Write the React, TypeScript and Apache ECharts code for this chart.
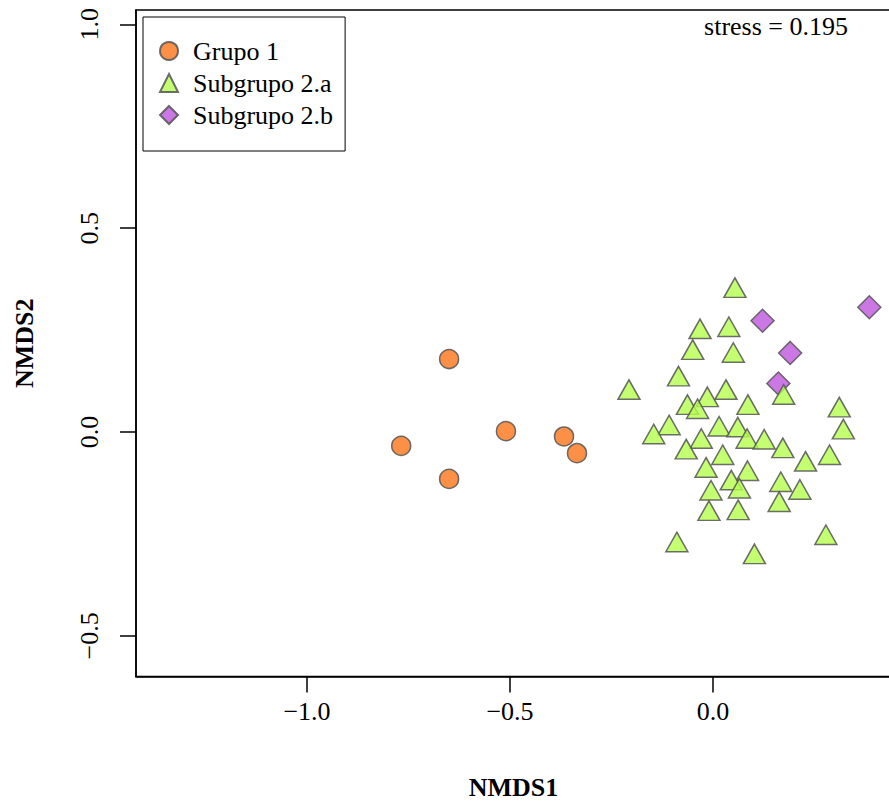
import React, { useEffect, useRef } from "react";
import * as echarts from "echarts";

// NMDS ordination scores (NMDS1, NMDS2) per group
const grupo1: [number, number][] = [
  [-0.65, 0.179],
  [-0.768, -0.034],
  [-0.65, -0.115],
  [-0.51, 0.002],
  [-0.367, -0.011],
  [-0.335, -0.052],
];

const subgrupo2a: [number, number][] = [
  [0.054, 0.346],
  [-0.032, 0.245],
  [0.039, 0.25],
  [-0.05, 0.194],
  [0.05, 0.187],
  [-0.085, 0.129],
  [-0.207, 0.096],
  [0.032, 0.096],
  [-0.014, 0.078],
  [-0.063, 0.059],
  [-0.038, 0.049],
  [0.086, 0.059],
  [0.174, 0.084],
  [0.311, 0.053],
  [0.321, -0.001],
  [-0.108, 0.009],
  [-0.146, -0.013],
  [0.015, 0.006],
  [0.061, 0.004],
  [0.084, -0.024],
  [-0.029, -0.024],
  [0.126, -0.026],
  [-0.066, -0.05],
  [0.172, -0.047],
  [0.024, -0.064],
  [0.228, -0.08],
  [0.287, -0.064],
  [-0.017, -0.095],
  [0.085, -0.103],
  [0.045, -0.126],
  [0.065, -0.146],
  [0.167, -0.13],
  [0.214, -0.149],
  [-0.005, -0.151],
  [0.163, -0.179],
  [-0.01, -0.201],
  [0.062, -0.199],
  [-0.089, -0.278],
  [0.102, -0.307],
  [0.278, -0.26],
];

const subgrupo2b: [number, number][] = [
  [0.122, 0.273],
  [0.19, 0.194],
  [0.161, 0.119],
  [0.385, 0.306],
];

const groupNames = ["Grupo 1", "Subgrupo 2.a", "Subgrupo 2.b"];
const xTickValues = [-1, -0.5, 0];
const yTickValues = [-0.5, 0, 0.5, 1];
const stressLabel = "stress = 0.195";

const FONT = "Liberation Serif";

const fmtTick = (v: number) =>
  (v < 0 ? "\u2212" : "") + Math.abs(v).toFixed(1);

export default function App() {
  const ref = useRef<HTMLDivElement>(null);

  useEffect(() => {
    if (!ref.current) return;
    const chart = echarts.init(ref.current, undefined, { renderer: "svg" });

    const stroke = {
      borderColor: "rgba(85,85,85,0.85)",
      borderWidth: 1.5,
      opacity: 1,
    };

    chart.setOption({
      animation: false,
      backgroundColor: "#ffffff",
      textStyle: { fontFamily: FONT },
      grid: {
        left: 136,
        top: 10,
        width: 755,
        height: 666.5,
        outerBoundsMode: "none",
        containLabel: false,
        show: true,
        borderColor: "#000",
        borderWidth: 1.5,
        backgroundColor: "transparent",
      },
      xAxis: {
        type: "value",
        min: -1.4212,
        max: 0.4384,
        name: "NMDS1",
        nameLocation: "middle",
        nameGap: 101,
        nameTextStyle: {
          fontFamily: FONT,
          fontWeight: "bold",
          fontSize: 26,
          lineHeight: 20,
          color: "#000",
        },
        splitLine: { show: false },
        axisLine: { show: true, onZero: false, lineStyle: { color: "#000", width: 1.5 } },
        axisTick: {
          show: true,
          length: 16,
          customValues: xTickValues,
          lineStyle: { color: "#000", width: 1.5 },
        },
        axisLabel: {
          customValues: xTickValues,
          margin: 22,
          fontFamily: FONT,
          fontSize: 26,
          color: "#000",
          formatter: fmtTick,
        },
      },
      yAxis: {
        type: "value",
        min: -0.5997,
        max: 1.0351,
        name: "NMDS2",
        nameLocation: "middle",
        nameGap: 99,
        nameTextStyle: {
          fontFamily: FONT,
          fontWeight: "bold",
          fontSize: 26,
          color: "#000",
        },
        splitLine: { show: false },
        axisLine: { show: true, onZero: false, lineStyle: { color: "#000", width: 1.5 } },
        axisTick: {
          show: true,
          length: 16,
          customValues: yTickValues,
          lineStyle: { color: "#000", width: 1.5 },
        },
        axisLabel: {
          customValues: yTickValues,
          rotate: 90,
          margin: 34,
          fontFamily: FONT,
          fontSize: 26,
          color: "#000",
          formatter: fmtTick,
        },
      },
      legend: {
        data: groupNames,
        orient: "vertical",
        left: 143,
        top: 17,
        padding: [21, 12, 23, 16],
        itemGap: 6,
        itemWidth: 18,
        itemHeight: 18,
        borderColor: "#000",
        borderWidth: 1,
        backgroundColor: "#fff",
        textStyle: {
          fontFamily: FONT,
          fontSize: 26,
          color: "#000",
          padding: [0, 0, 0, 10],
        },
      },
      graphic: [
        {
          type: "text",
          right: 41,
          top: 13,
          style: {
            text: stressLabel,
            font: `26px "${FONT}"`,
            fill: "#000",
          },
        },
      ],
      series: [
        {
          name: groupNames[0],
          type: "scatter",
          data: grupo1,
          symbol: "circle",
          symbolSize: 19,
          z: 2,
          itemStyle: { color: "rgba(251,116,24,0.8)", ...stroke },
        },
        {
          name: groupNames[2],
          type: "scatter",
          data: subgrupo2b,
          symbol: "diamond",
          symbolSize: [23, 23],
          z: 2,
          itemStyle: { color: "rgba(190,86,222,0.8)", ...stroke },
        },
        {
          name: groupNames[1],
          type: "scatter",
          data: subgrupo2a,
          symbol: "triangle",
          symbolSize: [22, 19.5],
          symbolOffset: [0, -3.3],
          z: 3,
          itemStyle: { color: "rgba(181,255,78,0.8)", ...stroke },
        },
      ],
    });

    return () => chart.dispose();
  }, []);

  return (
    <div
      ref={ref}
      style={{ position: "absolute", left: 0, top: 0, width: 889, height: 802 }}
    />
  );
}
